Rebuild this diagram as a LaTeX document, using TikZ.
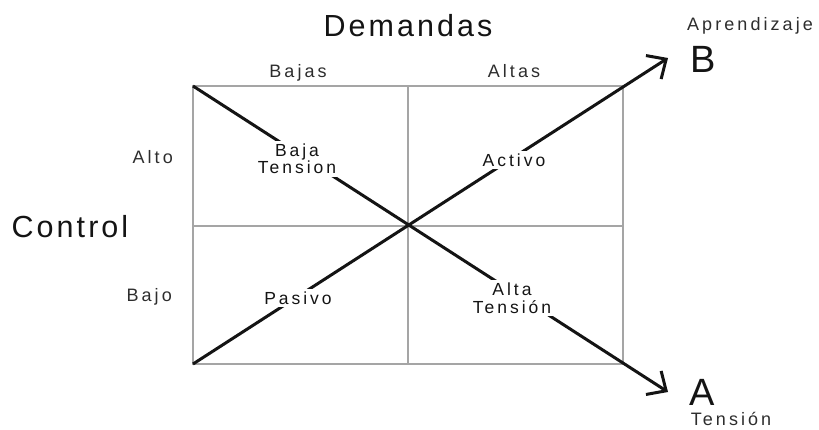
\documentclass[tikz,border=0pt]{standalone}
\usepackage{fontspec}
\setmainfont{Liberation Sans}
\newfontfamily\widefont[LetterSpace=17]{Liberation Sans}
\newfontfamily\titlefont[LetterSpace=10]{Liberation Sans}
\usepackage{tikz}
\usetikzlibrary{arrows.meta}
\definecolor{inkgray}{RGB}{20,20,20}
\definecolor{labelgray}{RGB}{45,45,45}
\definecolor{gridgray}{RGB}{165,165,165}

\begin{document}
\begin{tikzpicture}[x=1pt, y=-1pt, >={Straight Barb[length=15pt, width=28pt]},
  grid/.style={draw=gridgray, line width=2pt},
  axis/.style={draw=inkgray, line width=3pt},
  title/.style={anchor=base, font=\titlefont\fontsize{30.5}{30.5}\selectfont, text=inkgray},
  tick/.style={anchor=base, inner sep=1pt, font=\widefont\fontsize{18}{18}\selectfont, text=labelgray},
  quad/.style={fill=white, inner sep=3pt, align=center,
               font=\widefont\fontsize{17.5}{12}\selectfont, text=inkgray},
  letter/.style={anchor=base, font=\fontsize{38}{38}\selectfont, text=inkgray}]
\useasboundingbox (0,0) rectangle (819,429);

% cuadricula
\coordinate (tl) at (193,86);  \coordinate (tr) at (623,86);
\coordinate (bl) at (193,364); \coordinate (br) at (623,364);
\coordinate (mt) at (408,86);  \coordinate (mb) at (408,364);
\coordinate (ml) at (193,226); \coordinate (mr) at (623,226);
\draw[grid] (tl) rectangle (br);
\draw[grid] (mt) -- (mb); \draw[grid] (ml) -- (mr);

% diagonales
\coordinate (tipA) at (668,392); \coordinate (tipB) at (668,58);
\draw[axis,->] (tl) -- (tipA);
\draw[axis,->] (bl) -- (tipB);

% cuadrantes
\node[quad] (bajaT) at (297,159) {Baja\\Tension};
\node[quad] (altaT) at (512,298) {Alta\\[4pt]Tensión};
\node[quad] (activo) at (514,160) {Activo};
\node[quad] (pasivo) at (298,298) {Pasivo};

% ejes
\node[title] (dem) at (408,36) {Demandas};
\node[tick] (bajas) at (298,77) {Bajas};
\node[tick] (altas) at (514,77) {Altas};
\node[title] (ctrl) at (70,237) {Control};
\node[tick, anchor=base east] (alto) at (174,163) {Alto};
\node[tick, anchor=base east] (bajo) at (173,301) {Bajo};

% extremos
\node[letter] (B) at (703,72) {B};
\node[tick] (apr) at (750,30) {Aprendizaje};
\node[letter] (A) at (702,405) {A};
\node[tick] (ten) at (731,425) {Tensión};
\end{tikzpicture}
\end{document}
